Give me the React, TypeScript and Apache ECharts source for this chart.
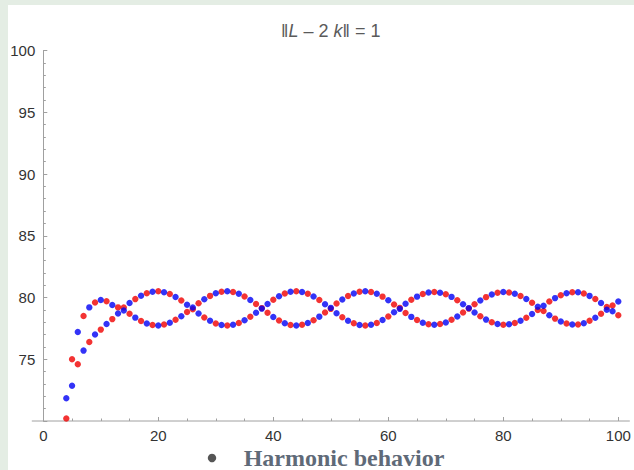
import React, { useEffect, useRef } from "react";
import * as echarts from "echarts";

// x positions start at 4 and step by 1 up to 100
const X_START = 4;

const redValues = [
  70.2, 75.0, 74.6, 78.5, 76.4, 79.6, 77.4, 79.7, 78.25, 79.2,
  79.19, 78.69, 79.87, 78.09, 80.35, 77.77, 80.5, 77.81, 80.28, 78.2,
  79.75, 78.83, 79.05, 79.54, 78.38, 80.13, 77.9, 80.46, 77.74, 80.44,
  77.94, 80.08, 78.44, 79.47, 79.14, 78.76, 79.82, 78.14, 80.32, 77.78,
  80.5, 77.79, 80.3, 78.16, 79.79, 78.79, 79.08, 79.51, 78.4, 80.12,
  77.91, 80.46, 77.74, 80.44, 77.94, 80.07, 78.46, 79.44, 79.16, 78.75,
  79.81, 78.17, 80.28, 77.84, 80.44, 77.85, 80.26, 78.19, 79.78, 78.79,
  79.1, 79.45, 78.48, 80.03, 78.0, 80.38, 77.8, 80.41, 77.93, 80.12,
  78.36, 79.58, 78.99, 78.91, 79.67, 78.29, 80.19, 77.89, 80.43, 77.82,
  80.32, 78.11, 79.88, 78.68, 79.23, 79.36, 78.56,
];

const blueValues = [
  71.85, 72.85, 77.2, 75.7, 79.2, 77.0, 79.8, 77.85, 79.4, 78.7,
  78.95, 79.55, 78.37, 80.15, 77.89, 80.47, 77.74, 80.43, 77.96, 80.04,
  78.49, 79.41, 79.19, 78.7, 79.86, 78.11, 80.34, 77.78, 80.5, 77.8,
  80.3, 78.16, 79.8, 78.77, 79.1, 79.48, 78.42, 80.1, 77.92, 80.46,
  77.74, 80.45, 77.94, 80.08, 78.45, 79.45, 79.16, 78.73, 79.84, 78.12,
  80.33, 77.78, 80.5, 77.8, 80.3, 78.17, 79.78, 78.8, 79.08, 79.49,
  78.43, 80.07, 77.96, 80.4, 77.8, 80.39, 77.98, 80.05, 78.46, 79.45,
  79.14, 78.79, 79.76, 78.21, 80.24, 77.86, 80.44, 77.83, 80.31, 78.12,
  79.88, 78.66, 79.25, 79.33, 78.57, 79.95, 78.05, 80.35, 77.81, 80.42,
  77.92, 80.13, 78.36, 79.56, 79.01, 78.88, 79.68,
];

const X_MIN = 0;
const X_MAX = 100;
const X_INTERVAL = 20;
const Y_MIN = 70;
const Y_MAX = 100;
const Y_INTERVAL = 5;

const TITLE_RICH = "‖{i|L} – 2 {i|k}‖ = 1";
const CAPTION = "Harmonic behavior";

const RED = "#f00000";
const BLUE = "#0000f5";
const AXIS_COLOR = "#a0a0a0";
const LABEL_COLOR = "#333333";

function toPoints(values: number[]) {
  return values.map((v, i) => [X_START + i, v]);
}

export default function App() {
  const ref = useRef<HTMLDivElement>(null);

  useEffect(() => {
    if (!ref.current) return;
    const chart = echarts.init(ref.current, undefined, { renderer: "svg" });
    chart.setOption({
      animation: false,
      backgroundColor: "transparent",
      grid: { left: 43.3, right: 15.7, top: 50.5, bottom: 49, containLabel: false },
      xAxis: {
        type: "value",
        min: X_MIN,
        max: X_MAX,
        interval: X_INTERVAL,
        axisLine: { show: false },
        axisTick: { show: true, inside: true, length: 4, lineStyle: { color: AXIS_COLOR } },
        minorTick: { show: true, splitNumber: 4, length: 2.5, lineStyle: { color: AXIS_COLOR } },
        splitLine: { show: false },
        axisLabel: {
          color: LABEL_COLOR,
          fontSize: 15,
          fontFamily: "Liberation Sans, Arial, sans-serif",
          margin: 7,
        },
      },
      yAxis: {
        type: "value",
        min: Y_MIN,
        max: Y_MAX,
        interval: Y_INTERVAL,
        axisLine: { show: true, lineStyle: { color: AXIS_COLOR } },
        axisTick: { show: true, inside: true, length: 4, lineStyle: { color: AXIS_COLOR } },
        minorTick: { show: true, splitNumber: 5, length: 2.5, lineStyle: { color: AXIS_COLOR } },
        splitLine: { show: false },
        axisLabel: {
          color: LABEL_COLOR,
          fontSize: 15,
          fontFamily: "Liberation Sans, Arial, sans-serif",
          margin: 8,
          showMinLabel: false,
        },
      },
      series: [
        {
          type: "scatter",
          data: toPoints(redValues),
          symbol: "circle",
          symbolSize: 6.4,
          itemStyle: { color: RED },
          z: 2,
        },
        {
          type: "scatter",
          data: toPoints(blueValues),
          symbol: "circle",
          symbolSize: 6.4,
          itemStyle: { color: BLUE },
          z: 3,
        },
      ],
    });

    const left = chart.convertToPixel({ gridIndex: 0 }, [-2, Y_MIN]) as number[];
    const right = chart.convertToPixel({ gridIndex: 0 }, [102, Y_MIN]) as number[];
    const mid = chart.convertToPixel({ gridIndex: 0 }, [(X_MIN + X_MAX) / 2, Y_MAX]) as number[];

    chart.setOption({
      graphic: [
        {
          type: "line",
          id: "xaxisline",
          shape: { x1: left[0], y1: left[1], x2: right[0], y2: right[1] },
          style: { stroke: AXIS_COLOR, lineWidth: 1 },
          z: 1,
        },
        {
          type: "text",
          id: "title",
          x: mid[0],
          y: 31,
          style: {
            text: TITLE_RICH,
            fill: "#5a5a5a",
            font: "18px 'Liberation Sans', Arial, sans-serif",
            textAlign: "center",
            textVerticalAlign: "middle",
            rich: {
              i: {
                fontStyle: "italic",
                fontSize: 18,
                fontFamily: "Liberation Sans, Arial, sans-serif",
                fill: "#5a5a5a",
              },
            },
          },
        },
        {
          type: "circle",
          id: "bullet",
          shape: { cx: 212, cy: 458, r: 4.2 },
          style: { fill: "#555555" },
        },
        {
          type: "text",
          id: "caption",
          x: 344,
          y: 458,
          style: {
            text: CAPTION,
            fill: "#5f6a78",
            font: "bold 24px 'Liberation Serif', 'Times New Roman', serif",
            textAlign: "center",
            textVerticalAlign: "middle",
          },
        },
      ],
    });

    return () => chart.dispose();
  }, []);

  return (
    <div
      style={{
        position: "fixed",
        left: 0,
        top: 0,
        width: 634,
        height: 470,
        background: "#e4ede4",
        overflow: "hidden",
      }}
    >
      <div
        style={{
          position: "absolute",
          left: 8,
          top: 5,
          right: 0,
          bottom: 0,
          background: "#ffffff",
        }}
      />
      <div
        ref={ref}
        style={{ position: "absolute", left: 0, top: 0, width: 634, height: 470 }}
      />
    </div>
  );
}
